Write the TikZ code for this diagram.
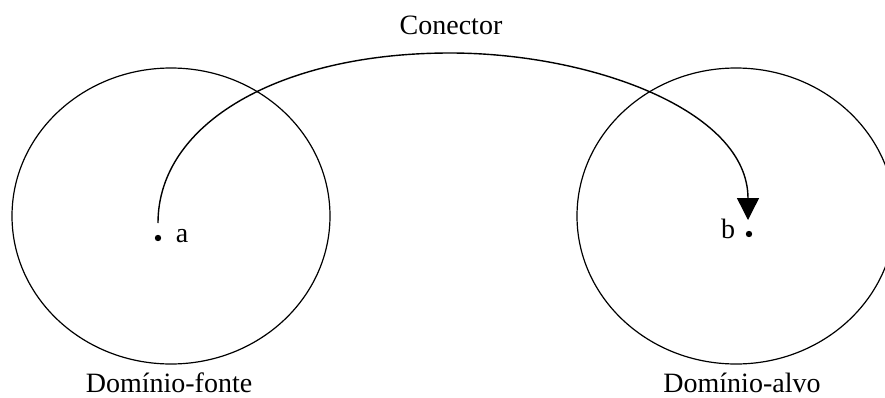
\documentclass[tikz,border=0pt]{standalone}
\usepackage{fontspec}
\setmainfont{Liberation Serif}
\usetikzlibrary{arrows.meta}

\begin{document}
\begin{tikzpicture}[x=0.5pt, y=-0.5pt, every node/.style={font=\fontsize{14}{16}\selectfont, anchor=base}]
\useasboundingbox (0,0) rectangle (885,397);
\clip (0,0) rectangle (885,397);

% dominios
\draw[line width=0.6pt] (171,216) ellipse [x radius=159, y radius=148];
\draw[line width=0.6pt] (736,216) ellipse [x radius=159, y radius=148];

% pontos
\node[circle, fill, inner sep=0pt, minimum size=3.2pt] (pa) at (158,238) {};
\node[circle, fill, inner sep=0pt, minimum size=3.2pt] (pb) at (749,234) {};
\node (la) at (182,242) {a};
\node (lb) at (728,238) {b};
\coordinate (ini) at (158,223);
\coordinate (fim) at (748,220);
\coordinate (topo) at (450,53);

% conector
\draw[line width=0.7pt, -{Triangle[length=11pt, width=11pt]}]
  (ini) .. controls (158,123) and (280,53) .. (topo)
        .. controls (590,53) and (748,110) .. (fim);

\node (tc) at (451,34) {Conector};
\node (tf) at (169,392) {Domínio-fonte};
\node (ta) at (742,392) {Domínio-alvo};
\end{tikzpicture}
\end{document}
